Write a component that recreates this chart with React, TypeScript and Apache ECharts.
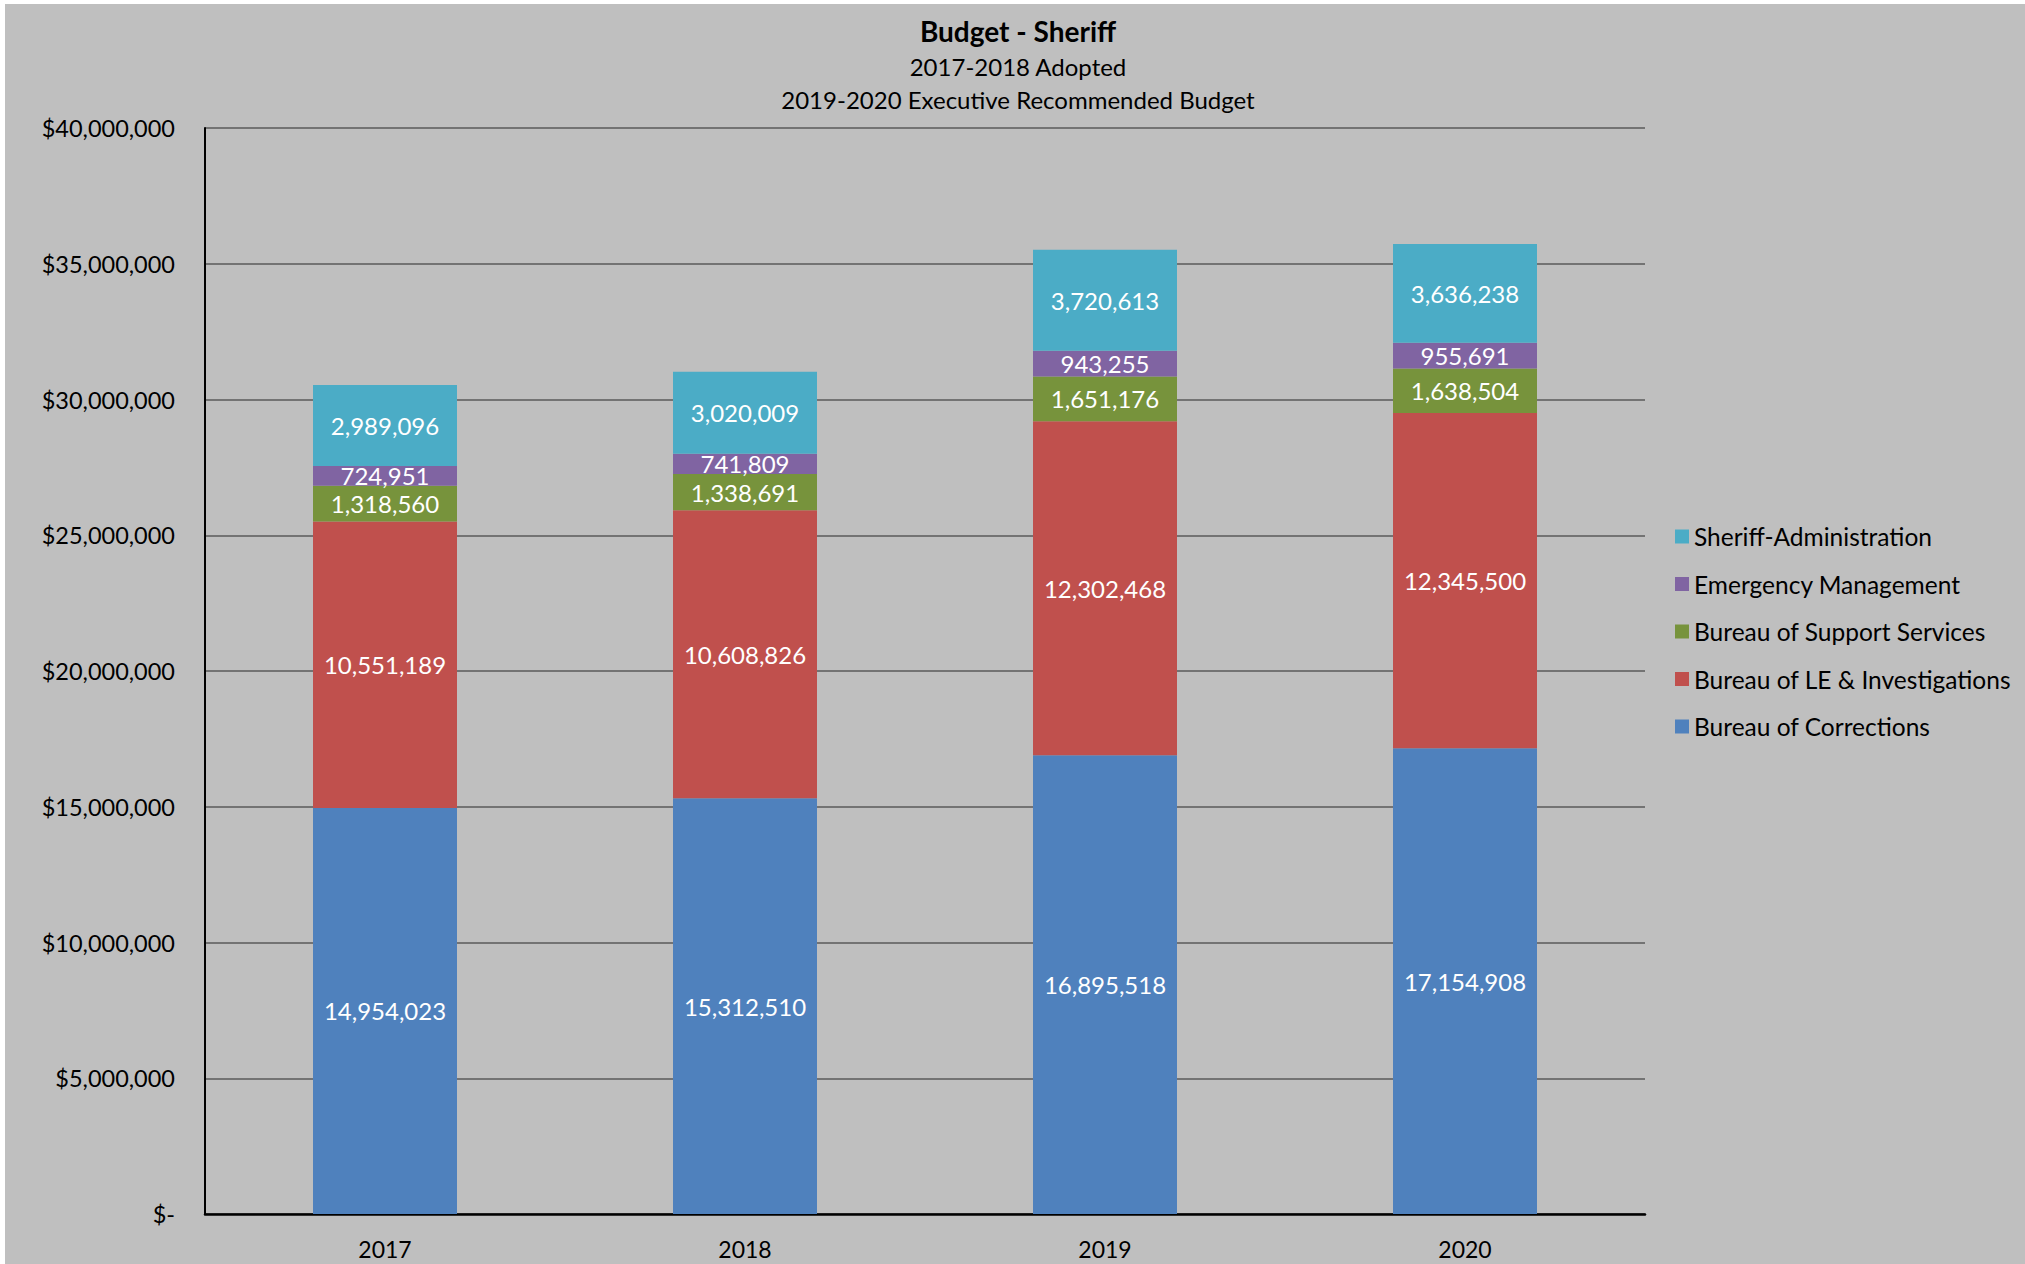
import React, { useEffect, useRef } from "react";
import * as echarts from "echarts";

const years = ["2017", "2018", "2019", "2020"];
const corrections = [14954023, 15312510, 16895518, 17154908];
const leInvestigations = [10551189, 10608826, 12302468, 12345500];
const supportServices = [1318560, 1338691, 1651176, 1638504];
const emergencyMgmt = [724951, 741809, 943255, 955691];
const sheriffAdmin = [2989096, 3020009, 3720613, 3636238];

const seriesNames = [
  "Bureau of Corrections",
  "Bureau of LE & Investigations",
  "Bureau of Support Services",
  "Emergency Management",
  "Sheriff-Administration",
];
const seriesData = [corrections, leInvestigations, supportServices, emergencyMgmt, sheriffAdmin];
const seriesColors = ["#4F81BD", "#C0504D", "#77933C", "#8064A2", "#4BACC6"];
const legendOrder = [
  "Sheriff-Administration",
  "Emergency Management",
  "Bureau of Support Services",
  "Bureau of LE & Investigations",
  "Bureau of Corrections",
];

const titleText = "Budget - Sheriff";
const subtitle1 = "2017-2018 Adopted";
const subtitle2 = "2019-2020 Executive Recommended Budget";

const FONT = "Lato";

function fmtNum(v: number) {
  return v.toLocaleString("en-US");
}

export default function App() {
  const ref = useRef<HTMLDivElement>(null);
  useEffect(() => {
    if (!ref.current) return;
    const chart = echarts.init(ref.current, undefined, { renderer: "svg" });
    chart.setOption({
      animation: false,
      backgroundColor: "#BFBFBF",
      textStyle: { fontFamily: FONT },
      graphic: [
        {
          type: "text",
          x: 1013,
          y: 27,
          style: {
            text: titleText,
            fontFamily: FONT,
            fontSize: 28,
            fontWeight: "bold",
            fill: "#000",
            align: "center",
            verticalAlign: "middle",
          },
        },
        {
          type: "text",
          x: 1013,
          y: 62,
          style: {
            text: subtitle1,
            fontFamily: FONT,
            fontSize: 24,
            fill: "#000",
            align: "center",
            verticalAlign: "middle",
          },
        },
        {
          type: "text",
          x: 1013,
          y: 95,
          style: {
            text: subtitle2,
            fontFamily: FONT,
            fontSize: 24,
            fill: "#000",
            align: "center",
            verticalAlign: "middle",
          },
        },
      ],
      legend: {
        orient: "vertical",
        left: 1665,
        top: 515,
        itemWidth: 14,
        itemHeight: 14,
        itemGap: 22.5,
        icon: "rect",
        data: legendOrder,
        textStyle: { fontFamily: FONT, fontSize: 24.5, lineHeight: 24, color: "#000" },
      },
      grid: { left: 200, right: 380, top: 124, bottom: 50, containLabel: false },
      xAxis: {
        type: "category",
        data: years,
        axisLine: { show: true, lineStyle: { color: "#000", width: 2.5 } },
        axisTick: { show: false },
        axisLabel: { fontFamily: FONT, fontSize: 23, color: "#000", margin: 23 },
      },
      yAxis: {
        type: "value",
        min: 0,
        max: 40000000,
        interval: 5000000,
        axisLine: { show: true, lineStyle: { color: "#000", width: 2 } },
        axisTick: { show: false },
        splitLine: { show: true, lineStyle: { color: "#5a5a5a", width: 1.5 } },
        axisLabel: {
          fontFamily: FONT,
          fontSize: 23.5,
          color: "#000",
          margin: 30,
          formatter: (v: number) => (v === 0 ? "$-" : "$" + fmtNum(v)),
        },
      },
      series: seriesNames.map((name, i) => ({
        name,
        type: "bar",
        stack: "total",
        barWidth: "40%",
        data: seriesData[i],
        itemStyle: { color: seriesColors[i] },
        label: {
          show: true,
          position: "inside",
          color: "#fff",
          fontFamily: FONT,
          fontSize: 24,
          formatter: (p: any) => fmtNum(p.value),
        },
      })),
    });
    return () => chart.dispose();
  }, []);
  return (
    <div
      ref={ref}
      style={{ position: "absolute", left: 5, top: 4, width: 2020, height: 1260 }}
    />
  );
}
